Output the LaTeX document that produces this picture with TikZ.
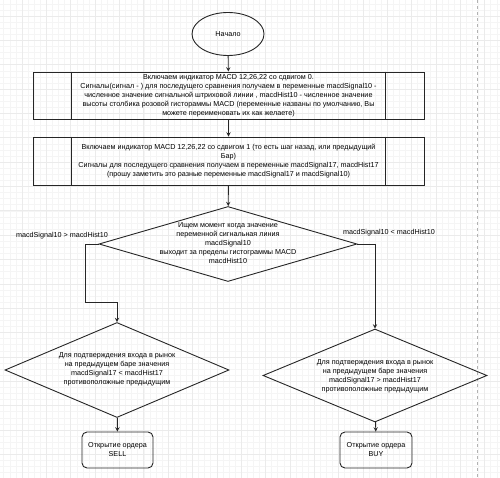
\documentclass[tikz,border=0pt]{standalone}
\usepackage{fontspec}
\setmainfont{Liberation Sans}
\usetikzlibrary{shapes.geometric}

\tikzset{
  flow/.style={draw=black!85, line width=0.9pt, font=\fontsize{7.2}{9}\selectfont, align=center},
  startbox/.style={flow, ellipse, minimum width=72pt, minimum height=43pt, inner sep=0pt},
  procbox/.style={flow, rectangle, minimum width=391pt, minimum height=47pt, inner sep=0pt},
  decision/.style={flow, diamond, inner sep=0pt},
  endbox/.style={flow, rectangle, rounded corners=5pt, minimum width=71pt, minimum height=36pt, inner sep=0pt},
  dtext/.style={font=\fontsize{7.2}{9}\selectfont, align=center, inner sep=0pt},
  cond/.style={font=\fontsize{7.2}{9}\selectfont, inner sep=0pt},
  sideline/.style={draw=black!85, line width=0.9pt},
  arr/.style={->, >=stealth, draw=black!85, line width=0.9pt},
}

\begin{document}
\begin{tikzpicture}[x=1pt, y=1pt]
 \useasboundingbox (0,0) rectangle (500,-478);
 % background grid
 \begin{scope}
  \clip (0,0) rectangle (500,-478);
  \begin{scope}[shift={(22,-16)}]
   \draw[black!4, line width=0.5pt, step=6.0875] (-30,30) grid (500,-500);
   \draw[black!8, line width=0.6pt, step=24.35] (-30,30) grid (500,-500);
  \end{scope}
  \draw[black!30, dashed, line width=0.6pt] (477,0) -- (477,-478);
 \end{scope}

 \node[startbox] (start) at (228,-34) {Начало};

 \node[procbox] (init) at (228.5,-95.5) {Включаем индикатор MACD 12,26,22 со сдвигом 0.\\
  Сигналы(сигнал - ) для последущего сравнения получаем в переменные macdSignal10 -\\
  численное значение сигнальной штриховой линии , macdHist10 - численное значение\\
  высоты столбика розовой гистораммы MACD (переменные названы по умолчанию, Вы\\
  можете переименовать их как желаете)};
 \draw[sideline] ([xshift=39pt]init.north west) -- ([xshift=39pt]init.south west);
 \draw[sideline] ([xshift=-39pt]init.north east) -- ([xshift=-39pt]init.south east);

 \node[procbox, minimum height=48pt] (prev) at (228.5,-161) {Включаем индикатор MACD 12,26,22 со сдвигом 1 (то есть шаг назад, или предыдущий\\
  Бар)\\
  Сигналы для последущего сравнения получаем в переменные macdSignal17, macdHist17\\
  (прошу заметить это разные переменные macdSignal17 и macdSignal10)};
 \draw[sideline] ([xshift=39pt]prev.north west) -- ([xshift=39pt]prev.south west);
 \draw[sideline] ([xshift=-39pt]prev.north east) -- ([xshift=-39pt]prev.south east);

 \node[decision, minimum width=258pt, minimum height=75pt] (check) at (228,-244) {};
 \node[dtext] (checktxt) at (228,-243) {Ищем момент когда значение\\
  переменной сигнальная линия\\
  macdSignal10\\
  выходит за пределы гистограммы MACD\\
  macdHist10};

 \node[cond] (gt) at (62,-236) {macdSignal10 > macdHist10};
 \node[cond] (lt) at (389,-233) {macdSignal10 < macdHist10};

 \node[decision, minimum width=224pt, minimum height=95pt] (sellcheck) at (117,-370) {};
 \node[dtext] (selltxt) at (117,-369.5) {Для подтверждения входа в рынок\\
  на предыдущем баре значения\\
  macdSignal17 < macdHist17\\
  противоположные предыдущим};

 \node[decision, minimum width=224pt, minimum height=93pt] (buycheck) at (375,-375.5) {};
 \node[dtext] (buytxt) at (375,-376) {Для подтверждения входа в рынок\\
  на предыдущем баре значения\\
  macdSignal17 > macdHist17\\
  противоположные предыдущим};

 \node[endbox] (sell) at (117.5,-450) {Открытие ордера\\SELL};
 \node[endbox, minimum width=72pt] (buy) at (376,-450) {Открытие ордера\\BUY};

 \draw[arr] (start) -- (init);
 \draw[arr] (init) -- (prev);
 \draw[arr] (prev) -- (check);
 \draw[arr] (check.west) -- ++(-13,0) |- ([yshift=20pt]sellcheck.north) -- (sellcheck.north);
 \draw[arr] (check.east) -| (buycheck.north);
 \draw[arr] (sellcheck) -- (sell);
 \draw[arr] (buycheck) -- (buy);
\end{tikzpicture}
\end{document}
